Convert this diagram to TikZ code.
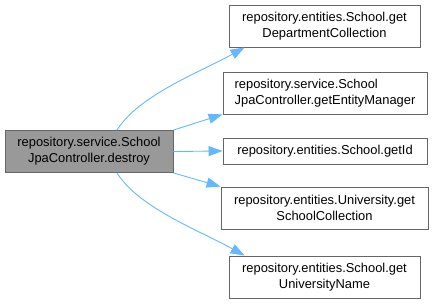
\documentclass[tikz,border=0pt]{standalone}
\usepackage{fontspec}
\setmainfont{Liberation Sans}
\usetikzlibrary{arrows.meta}
\definecolor{edgeblue}{HTML}{63B8FF}
\definecolor{boxline}{HTML}{666666}
\definecolor{boxgray}{HTML}{999999}
\tikzset{
  fn/.style={draw=boxline, line width=0.9pt, fill=white, align=center,
    font=\fontsize{12.9}{16}\selectfont, inner xsep=7pt, inner ysep=4pt,
    text=black},
  twoline/.style={fn, minimum height=42pt},
  oneline/.style={fn, minimum height=26pt},
  cur/.style={twoline, fill=boxgray},
  call/.style={draw=edgeblue, line width=0.9pt,
    -{Triangle[length=14pt,width=10pt,fill=edgeblue]}}
}
\begin{document}
\begin{tikzpicture}[x=1pt,y=-1pt]
\useasboundingbox (0,0) rectangle (433,304);
\node[cur, minimum width=168pt] (src) at (89,151.5)
  {repository.service.School\\JpaController.destroy};
\node[twoline, minimum width=191pt] (d1) at (324.5,26)
  {repository.entities.School.get\\DepartmentCollection};
\node[twoline, align=left, minimum width=204pt] (d2) at (325,93)
  {repository.service.School\\JpaController.getEntityManager};
\node[oneline, minimum width=204pt] (d3) at (325,151)
  {repository.entities.School.getId};
\node[twoline, minimum width=207pt] (d4) at (324.5,208)
  {repository.entities.University.get\\SchoolCollection};
\node[twoline, minimum width=191pt] (d5) at (324.5,277)
  {repository.entities.School.get\\UniversityName};
\draw[call] ([xshift=28pt]src.north) .. controls +(22,-35) and +(-45,25) .. ([xshift=16pt]d1.south west);
\draw[call] (src.north east) -- (d2.south west);
\draw[call] (src.east) -- (d3.west);
\draw[call] (src.south east) -- (d4.north west);
\draw[call] ([xshift=28pt]src.south) .. controls +(22,35) and +(-45,-25) .. ([xshift=16pt]d5.north west);
\end{tikzpicture}
\end{document}
